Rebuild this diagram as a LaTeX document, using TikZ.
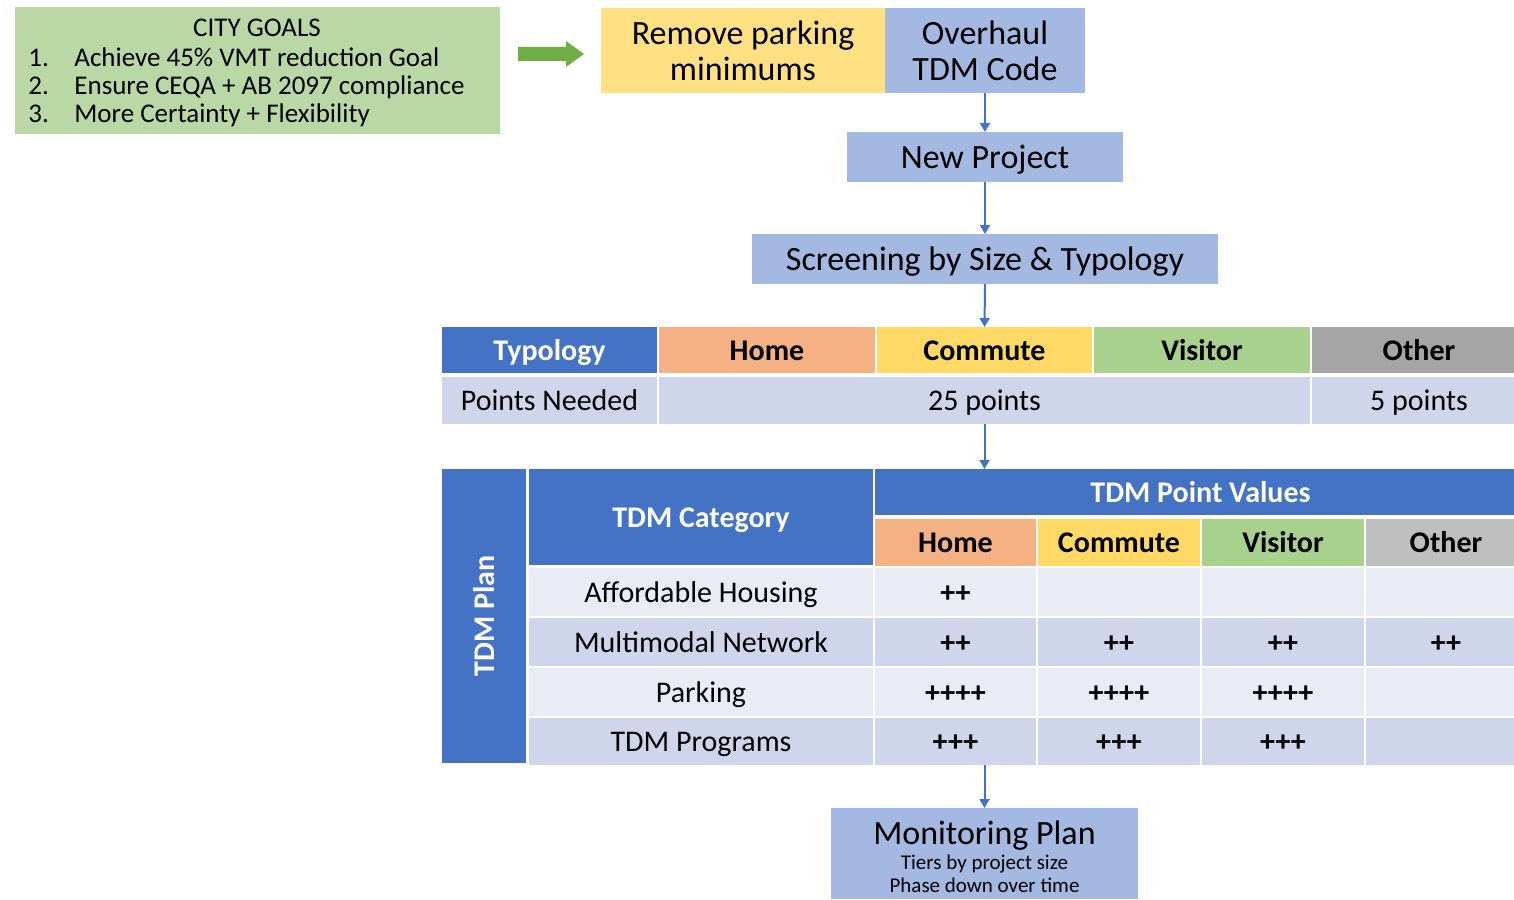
\documentclass[tikz,border=0pt]{standalone}
\usepackage{fontspec}
\setmainfont{Carlito}
\usetikzlibrary{arrows.meta}

\definecolor{goalgreen}{HTML}{B9D8A5}
\definecolor{arrowgreen}{HTML}{70AD47}
\definecolor{paleyellow}{HTML}{FFE083}
\definecolor{paleblue}{HTML}{A3B9E1}
\definecolor{accentblue}{HTML}{4472C4}
\definecolor{homeorange}{HTML}{F4B183}
\definecolor{commuteyellow}{HTML}{FFD966}
\definecolor{visitorgreen}{HTML}{A9D18E}
\definecolor{othergray}{HTML}{A5A5A5}
\definecolor{otherlight}{HTML}{BFBFBF}
\definecolor{rowdark}{HTML}{CFD5EA}
\definecolor{rowlight}{HTML}{E9EBF5}

% \cellat{name}{x1}{y1}{x2}{y2}{options}{text}: a filled box spanning the given corners
\newcommand\cellat[7]{%
  \node[cellbase,#6,minimum width={(#4-#2)*0.5pt},minimum height={(#5-#3)*0.5pt}]
    (#1) at ({(#2+#4)/2},{(#3+#5)/2}) {#7};}

\tikzset{
  cellbase/.style={inner sep=0pt, outer sep=0pt, align=center},
  oneline/.style={text height=1.0em, text depth=0em},
  bigline/.style={text height=1.1em, text depth=0em},
  bigtext/.style={font=\fontsize{17}{18}\selectfont},
  bodytext/.style={font=\fontsize{15}{18}\selectfont},
  headtext/.style={font=\fontsize{15}{18}\selectfont\bfseries},
  goaltext/.style={font=\fontsize{13.5}{16}\selectfont, inner sep=0pt},
  smalltext/.style={font=\fontsize{10.5}{12}\selectfont, inner sep=0pt},
  conn/.style={draw=accentblue, line width=1pt, -{Triangle[width=5pt,length=4.5pt]}},
}

\begin{document}
\begin{tikzpicture}[x=0.5pt, y=-0.5pt]
\useasboundingbox (0,0) rectangle (1514,899);

% ---- city goals
\cellat{goals}{15}{7}{500}{134}{fill=goalgreen}{}
\node[goaltext, anchor=base] (gtitle) at (257,37) {CITY GOALS};
\node[goaltext, anchor=base west] (g1n) at (28,67) {1.};
\node[goaltext, anchor=base west] (g1) at (74,67) {Achieve 45\% VMT reduction Goal};
\node[goaltext, anchor=base west] (g2n) at (28,95) {2.};
\node[goaltext, anchor=base west] (g2) at (74,95) {Ensure CEQA + AB 2097 compliance};
\node[goaltext, anchor=base west] (g3n) at (28,123) {3.};
\node[goaltext, anchor=base west] (g3) at (74,123) {More Certainty + Flexibility};

% block arrow
\fill[arrowgreen] (518,47) -- (566,47) -- (566,41) -- (584,54) -- (566,67)
  -- (566,61) -- (518,61) -- cycle;

% ---- flow boxes
\cellat{remove}{601}{8}{885}{93}{fill=paleyellow, bigtext}{Remove parking\\minimums}
\cellat{overhaul}{885}{8}{1085}{93}{fill=paleblue, bigtext}{Overhaul\\TDM Code}
\cellat{newproj}{847}{132}{1123}{182}{fill=paleblue, bigtext, bigline}{New Project}
\cellat{screen}{752}{234}{1218}{284}{fill=paleblue, bigtext, bigline}{Screening by Size \& Typology}

% ---- typology table
\cellat{ttyp}{442}{327}{657}{373}{fill=accentblue, text=white, headtext, oneline}{Typology}
\cellat{thome}{659}{327}{875}{373}{fill=homeorange, headtext, oneline}{Home}
\cellat{tcomm}{877}{327}{1092}{373}{fill=commuteyellow, headtext, oneline}{Commute}
\cellat{tvis}{1094}{327}{1310}{373}{fill=visitorgreen, headtext, oneline}{Visitor}
\cellat{toth}{1312}{327}{1526}{373}{fill=othergray, headtext, oneline}{Other}
\cellat{pneed}{442}{377}{657}{424}{fill=rowdark, bodytext, oneline}{Points Needed}
\cellat{p25}{659}{377}{1310}{424}{fill=rowdark, bodytext, oneline}{25 points}
\cellat{p5}{1312}{377}{1526}{424}{fill=rowdark, bodytext, oneline}{5 points}

% ---- TDM plan table
\cellat{plan}{442}{469}{526}{763}{fill=accentblue}{}
\node[headtext, text=white, rotate=90, inner sep=0pt] (plantext) at (plan.center) {TDM Plan};
\cellat{tdmcat}{529}{469}{873}{565}{fill=accentblue, text=white, headtext, oneline}{TDM Category}
\cellat{tpv}{875}{469}{1526}{515}{fill=accentblue, text=white, headtext, oneline}{TDM Point Values}
\cellat{shome}{875}{519}{1036}{566}{fill=homeorange, headtext, oneline}{Home}
\cellat{scomm}{1038}{519}{1200}{566}{fill=commuteyellow, headtext, oneline}{Commute}
\cellat{svis}{1202}{519}{1364}{566}{fill=visitorgreen, headtext, oneline}{Visitor}
\cellat{soth}{1366}{519}{1526}{566}{fill=otherlight, headtext, oneline}{Other}

\foreach \r/\ya/\yb/\shade/\lab/\va/\vb/\vc/\vd in {
    1/568/616/rowlight/Affordable Housing/++/{}/{}/{},
    2/618/666/rowdark/Multimodal Network/++/++/++/++,
    3/668/716/rowlight/Parking/++++/++++/++++/{},
    4/718/765/rowdark/TDM Programs/+++/+++/+++/{}} {
  \cellat{cat\r}{529}{\ya}{873}{\yb}{fill=\shade, bodytext, oneline}{\lab}
  \cellat{vh\r}{875}{\ya}{1036}{\yb}{fill=\shade, headtext, oneline}{\va}
  \cellat{vc\r}{1038}{\ya}{1200}{\yb}{fill=\shade, headtext, oneline}{\vb}
  \cellat{vv\r}{1202}{\ya}{1364}{\yb}{fill=\shade, headtext, oneline}{\vc}
  \cellat{vo\r}{1366}{\ya}{1526}{\yb}{fill=\shade, headtext, oneline}{\vd}
}

% ---- monitoring plan
\cellat{mon}{831}{808}{1138}{899}{fill=paleblue}{}
\node[bigtext, inner sep=0pt, anchor=base] (montitle) at (984.5,844) {Monitoring Plan};
\node[smalltext, anchor=base] (monsub1) at (984.5,869) {Tiers by project size};
\node[smalltext, anchor=base] (monsub2) at (984.5,892) {Phase down over time};

% ---- connectors
\draw[conn] (overhaul.south) -- (newproj.north);
\draw[conn] (newproj.south) -- (screen.north);
\draw[conn] (screen.south) -- (tcomm.north);
\draw[conn] (p25.south) -- (p25.south |- tpv.north);
\draw[conn] (mon.north |- cat4.south) -- (mon.north);
\end{tikzpicture}
\end{document}
